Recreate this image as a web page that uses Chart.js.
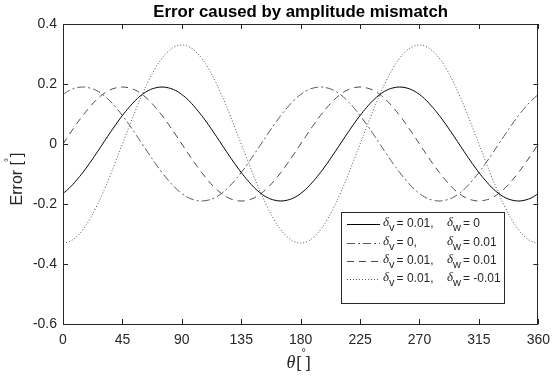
<!DOCTYPE html>
<html>
<head>
<meta charset="utf-8">
<script src="https://cdn.jsdelivr.net/npm/chart.js@4/dist/chart.umd.min.js"></script>
<style>
  html, body { margin: 0; padding: 0; background: #ffffff; }
  #wrap { width: 558px; height: 380px; }
</style>
</head>
<body>
<div id="wrap"><canvas id="c" width="558" height="380"></canvas></div>
<script>
// Rotor angle samples, degrees
const angles = [0,5,10,15,20,25,30,35,40,45,50,55,60,65,70,75,80,85,90,95,100,105,110,115,120,125,130,135,140,145,150,155,160,165,170,175,180,
  185,190,195,200,205,210,215,220,225,230,235,240,245,250,255,260,265,270,275,280,285,290,295,300,305,310,315,320,325,330,335,340,345,350,355,360];

// Angle error (degrees) for each amplitude-mismatch case
const errV = [-0.165,-0.146,-0.122,-0.095,-0.065,-0.033,0,0.033,0.065,0.095,0.122,0.146,0.165,0.179,0.187,0.19,0.187,0.179,0.165,0.146,0.122,0.095,0.065,0.033,0,-0.033,-0.065,-0.095,-0.122,-0.146,-0.165,-0.179,-0.187,-0.19,-0.187,-0.179,-0.165,
  -0.146,-0.122,-0.095,-0.065,-0.033,0,0.033,0.065,0.095,0.122,0.146,0.165,0.179,0.187,0.19,0.187,0.179,0.165,0.146,0.122,0.095,0.065,0.033,0,-0.033,-0.065,-0.095,-0.122,-0.146,-0.165,-0.179,-0.187,-0.19,-0.187,-0.179,-0.165];
const errW = [0.165,0.179,0.187,0.19,0.187,0.179,0.165,0.146,0.122,0.095,0.065,0.033,0,-0.033,-0.065,-0.095,-0.122,-0.146,-0.165,-0.179,-0.187,-0.19,-0.187,-0.179,-0.165,-0.146,-0.122,-0.095,-0.065,-0.033,0,0.033,0.065,0.095,0.122,0.146,0.165,
  0.179,0.187,0.19,0.187,0.179,0.165,0.146,0.122,0.095,0.065,0.033,0,-0.033,-0.065,-0.095,-0.122,-0.146,-0.165,-0.179,-0.187,-0.19,-0.187,-0.179,-0.165,-0.146,-0.122,-0.095,-0.065,-0.033,0,0.033,0.065,0.095,0.122,0.146,0.165];
const errVW = [0,0.033,0.065,0.095,0.122,0.146,0.165,0.179,0.187,0.19,0.187,0.179,0.165,0.146,0.122,0.095,0.065,0.033,0,-0.033,-0.065,-0.095,-0.122,-0.146,-0.165,-0.179,-0.187,-0.19,-0.187,-0.179,-0.165,-0.146,-0.122,-0.095,-0.065,-0.033,0,
  0.033,0.065,0.095,0.122,0.146,0.165,0.179,0.187,0.19,0.187,0.179,0.165,0.146,0.122,0.095,0.065,0.033,0,-0.033,-0.065,-0.095,-0.122,-0.146,-0.165,-0.179,-0.187,-0.19,-0.187,-0.179,-0.165,-0.146,-0.122,-0.095,-0.065,-0.033,0];
const errVnegW = [-0.33,-0.325,-0.31,-0.286,-0.253,-0.212,-0.165,-0.113,-0.057,0,0.057,0.113,0.165,0.212,0.253,0.286,0.31,0.325,0.33,0.325,0.31,0.286,0.253,0.212,0.165,0.113,0.057,0,-0.057,-0.113,-0.165,-0.212,-0.253,-0.286,-0.31,-0.325,-0.33,
  -0.325,-0.31,-0.286,-0.253,-0.212,-0.165,-0.113,-0.057,0,0.057,0.113,0.165,0.212,0.253,0.286,0.31,0.325,0.33,0.325,0.31,0.286,0.253,0.212,0.165,0.113,0.057,0,-0.057,-0.113,-0.165,-0.212,-0.253,-0.286,-0.31,-0.325,-0.33];

const xTicks = [0,45,90,135,180,225,270,315,360];
const yTicks = [-0.6,-0.4,-0.2,0,0.2,0.4];

// Legend entries: values for delta_v and delta_w
const legendV = ['= 0.01,', '= 0,', '= 0.01,', '= 0.01,'];
const legendW = ['= 0', '= 0.01', '= 0.01', '= -0.01'];

const AXIS_COLOR = '#262626';
const SANS = '"Liberation Sans", Arial, sans-serif';

const styles = [
  { color: '#000000', dash: [] },
  { color: '#5a5a5a', dash: [8, 3, 2, 3] },
  { color: '#4a4a4a', dash: [7, 5] },
  { color: '#555555', dash: [1, 2] }
];

function pts(vals) {
  return angles.map((a, i) => ({ x: a, y: vals[i] }));
}

function ds(vals, st, label) {
  return {
    label: label,
    data: pts(vals),
    borderColor: st.color,
    borderWidth: 1,
    borderDash: st.dash,
    pointRadius: 0,
    tension: 0.4,
    fill: false
  };
}

// Frame, inward ticks, title, axis titles and legend
const decor = {
  id: 'decor',
  afterDraw(chart) {
    const { ctx, chartArea: a, scales } = chart;
    const xs = scales.x, ys = scales.y;
    ctx.save();
    ctx.strokeStyle = AXIS_COLOR;
    ctx.lineWidth = 1;
    ctx.setLineDash([]);
    ctx.strokeRect(Math.round(a.left) + 0.5, Math.round(a.top) + 0.5,
                   Math.round(a.right - a.left) - 1, Math.round(a.bottom - a.top));
    const tl = 5;
    ctx.beginPath();
    xTicks.forEach(v => {
      const px = Math.round(xs.getPixelForValue(v)) + 0.5;
      ctx.moveTo(px, a.bottom); ctx.lineTo(px, a.bottom - tl);
      ctx.moveTo(px, a.top); ctx.lineTo(px, a.top + tl);
    });
    yTicks.forEach(v => {
      const py = Math.round(ys.getPixelForValue(v)) + 0.5;
      ctx.moveTo(a.left, py); ctx.lineTo(a.left + tl, py);
      ctx.moveTo(a.right, py); ctx.lineTo(a.right - tl, py);
    });
    ctx.stroke();

    // Title
    ctx.fillStyle = '#000000';
    ctx.font = 'bold 16.8px ' + SANS;
    ctx.textAlign = 'center';
    ctx.textBaseline = 'middle';
    ctx.fillText('Error caused by amplitude mismatch', (a.left + a.right) / 2, 12);

    // X axis title: theta [deg]
    ctx.fillStyle = AXIS_COLOR;
    const cx = (a.left + a.right) / 2 - 2;
    const ty = 368;
    ctx.font = 'italic 18px "Liberation Serif", serif';
    const thW = ctx.measureText('θ').width;
    ctx.font = '17px ' + SANS;
    const bW = ctx.measureText('[').width;
    const gap = 5;
    const total = thW + 1 + bW + gap + bW;
    let x0 = cx - total / 2;
    ctx.textAlign = 'left';
    ctx.textBaseline = 'alphabetic';
    ctx.font = 'italic 18px "Liberation Serif", serif';
    ctx.fillText('θ', x0, ty);
    x0 += thW + 1;
    ctx.font = '17px ' + SANS;
    ctx.fillText('[', x0, ty);
    ctx.fillText(']', x0 + bW + gap, ty);
    ctx.font = '11px ' + SANS;
    ctx.textAlign = 'center';
    ctx.fillText('°', x0 + bW + gap / 2, ty - 12);

    // Y axis title: Error [deg]
    ctx.save();
    ctx.translate(18, 179);
    ctx.rotate(-Math.PI / 2);
    ctx.font = '16px ' + SANS;
    const eW = ctx.measureText('Error [').width;
    const rW = ctx.measureText(']').width;
    const ygap = 4;
    const yTotal = eW + ygap + rW;
    let y0 = -yTotal / 2;
    ctx.textAlign = 'left';
    ctx.textBaseline = 'middle';
    ctx.fillText('Error [', y0, 0);
    ctx.fillText(']', y0 + eW + ygap, 0);
    ctx.font = '10px ' + SANS;
    ctx.textAlign = 'center';
    ctx.fillText('°', y0 + eW + ygap / 2 - 1, -9);
    ctx.restore();

    // Legend
    const lx = 341, ly = 212, lw = 163, lh = 91;
    ctx.fillStyle = '#ffffff';
    ctx.fillRect(lx, ly, lw, lh);
    ctx.strokeStyle = AXIS_COLOR;
    ctx.strokeRect(lx + 0.5, ly + 0.5, lw, lh);
    const rowY = [224, 243, 261, 279];
    rowY.forEach((ry, i) => {
      const st = styles[i];
      ctx.strokeStyle = st.color;
      ctx.setLineDash(st.dash);
      ctx.beginPath();
      ctx.moveTo(347, ry + 0.5);
      ctx.lineTo(380, ry + 0.5);
      ctx.stroke();
      ctx.setLineDash([]);
      drawDeltaTerm(ctx, 383, ry, 'v', legendV[i]);
      drawDeltaTerm(ctx, 447, ry, 'w', legendW[i]);
    });
    ctx.restore();
  }
};

function drawDeltaTerm(ctx, x, y, sub, rest) {
  ctx.fillStyle = AXIS_COLOR;
  ctx.textAlign = 'left';
  ctx.textBaseline = 'middle';
  ctx.font = 'italic 13px "Liberation Serif", serif';
  ctx.fillText('δ', x, y - 1);
  x += ctx.measureText('δ').width;
  ctx.font = '11px ' + SANS;
  ctx.fillText(sub, x, y + 4);
  x += ctx.measureText(sub).width + 2;
  ctx.font = '12px ' + SANS;
  ctx.fillText(rest, x, y);
}

new Chart(document.getElementById('c'), {
  type: 'line',
  data: {
    datasets: [
      ds(errV, styles[0], 'δv = 0.01, δw = 0'),
      ds(errW, styles[1], 'δv = 0, δw = 0.01'),
      ds(errVW, styles[2], 'δv = 0.01, δw = 0.01'),
      ds(errVnegW, styles[3], 'δv = 0.01, δw = -0.01')
    ]
  },
  options: {
    responsive: false,
    animation: false,
    devicePixelRatio: 1,
    layout: { padding: { top: 24, right: 12, left: 0, bottom: 0 } },
    plugins: {
      legend: { display: false },
      title: { display: false },
      tooltip: { enabled: false }
    },
    scales: {
      x: {
        type: 'linear',
        min: 0, max: 360,
        afterBuildTicks: s => { s.ticks = xTicks.map(v => ({ value: v })); },
        afterFit: s => { s.height = 56; },
        grid: { display: false, drawTicks: false },
        border: { display: false },
        ticks: { padding: 8, color: AXIS_COLOR, font: { family: SANS, size: 14 }, maxRotation: 0, autoSkip: false }
      },
      y: {
        type: 'linear',
        min: -0.6, max: 0.4,
        afterBuildTicks: s => { s.ticks = yTicks.map(v => ({ value: v })); },
        afterFit: s => { s.width = 63; },
        grid: { display: false, drawTicks: false },
        border: { display: false },
        ticks: {
          padding: 6, color: AXIS_COLOR, font: { family: SANS, size: 14 },
          callback: v => (Math.abs(v) < 1e-9 ? '0' : v.toFixed(1))
        }
      }
    }
  },
  plugins: [decor]
});
</script>
</body>
</html>
